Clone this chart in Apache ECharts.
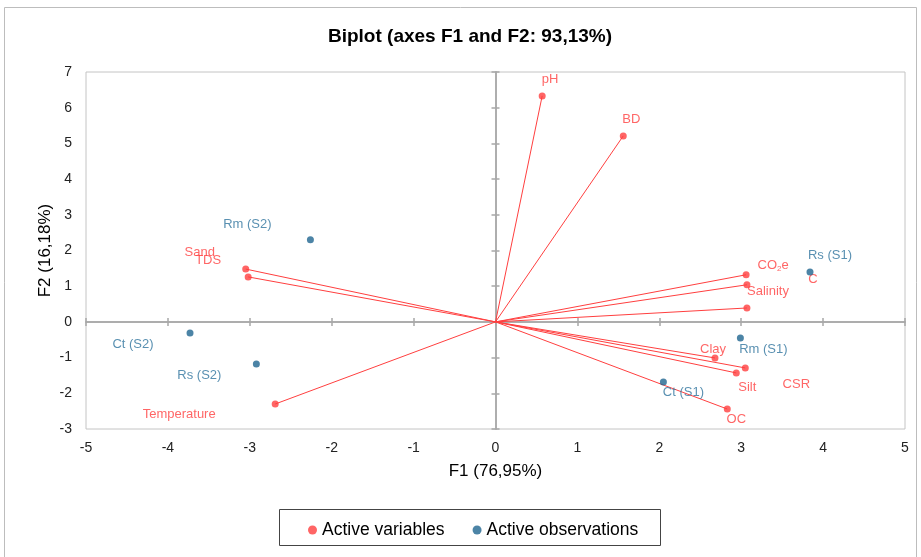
<!DOCTYPE html>
<html>
<head>
<meta charset="utf-8">
<script src="https://cdn.jsdelivr.net/npm/echarts@6/dist/echarts.min.js"></script>
<style>html,body{margin:0;padding:0;background:#fff}#c{width:921px;height:557px}</style>
</head>
<body>
<div id="c"></div>
<script>
// ---- data ----
const varNames = ['pH','BD','Sand','TDS','Temperature','CO2e','Salinity','C','Clay','CSR','Silt','OC'];
const varF1 = [0.57, 1.56, -3.05, -3.02, -2.69, 3.06, 3.07, 3.07, 2.68, 3.05, 2.94, 2.83];
const varF2 = [6.33, 5.21, 1.48, 1.26, -2.30, 1.32, 1.04, 0.39, -1.01, -1.29, -1.43, -2.44];
const obsNames = ['Rm (S2)','Ct (S2)','Rs (S2)','Rs (S1)','Rm (S1)','Ct (S1)'];
const obsF1 = [-2.26, -3.73, -2.92, 3.84, 2.99, 2.05];
const obsF2 = [2.30, -0.31, -1.18, 1.40, -0.45, -1.68];
const xTicks = [-5,-4,-3,-2,-1,0,1,2,3,4,5];
const yTicks = [-3,-2,-1,0,1,2,3,4,5,6,7];

// ---- style: label offsets in pixels ----
const varLabelOffset = {
  'pH':[8,-16],'BD':[8,-16],'Sand':[-46,-17],'TDS':[-40,-16],'Temperature':[-96,10],
  'CO2e':[27,-9],'Salinity':[21,7],'C':[66,-29],'Clay':[-2,-9],'CSR':[51,16],'Silt':[11,14],'OC':[9,10]
};
const obsLabelOffset = {
  'Rm (S2)':[-63,-15],'Ct (S2)':[-57,11],'Rs (S2)':[-57,11],'Rs (S1)':[20,-16],'Rm (S1)':[23,11],'Ct (S1)':[20,11]
};

const RED = '#ff3f3f', RED_TXT = '#ff4040', BLUE = '#1f6590', BLUE_TXT = '#2f749d';
const FONT = 'Liberation Sans';

const xMin = xTicks[0], xMax = xTicks[xTicks.length-1];
const yMin = yTicks[0], yMax = yTicks[yTicks.length-1];

const varData = varNames.map((n,i)=>({
  name:n, value:[varF1[i], varF2[i]],
  label:{offset:varLabelOffset[n], formatter: n==='CO2e' ? 'CO{s|2}e' : n}
}));
const obsData = obsNames.map((n,i)=>({
  name:n, value:[obsF1[i], obsF2[i]],
  label:{offset:obsLabelOffset[n]}
}));
const vecData = varNames.map((n,i)=>({coords:[[0,0],[varF1[i], varF2[i]]]}));

const gridRect = {left:86, right:16, top:72, bottom:128};
const zeroLine = {show:true, onZero:true, lineStyle:{color:'#a8a8a8', width:1.5}};
const zeroTick = {show:true, length:4, lineStyle:{color:'#a8a8a8', width:1.5}};
const common = (mn,mx)=>({type:'value', min:mn, max:mx, interval:1, splitLine:{show:false}});

const chart = echarts.init(document.getElementById('c'), null, {renderer:'canvas'});
chart.setOption({
  animation:false,
  backgroundColor:'#fff',
  title:{
    text:'Biplot (axes F1 and F2: 93,13%)',
    left:465, top:22, textAlign:'center',
    textStyle:{fontFamily:FONT, fontSize:19, fontWeight:'bold', color:'#000'}
  },
  graphic:[
    {type:'rect', shape:{x:4.5, y:7.5, width:912, height:560}, style:{fill:'none', stroke:'#bdbdbd', lineWidth:1}, silent:true, z:-1},
    {type:'rect', shape:{x:279.5, y:509.5, width:381, height:36}, style:{fill:'none', stroke:'#444', lineWidth:1}, silent:true}
  ],
  legend:{
    left:303, top:516, itemWidth:9, itemHeight:9, itemGap:28, icon:'circle',
    data:['Active variables','Active observations'],
    textStyle:{fontFamily:FONT, fontSize:17.5, color:'#000', padding:[0,0,0,0]}
  },
  grid:[
    Object.assign({show:true, borderColor:'#c4c4c4', borderWidth:1}, gridRect),
    Object.assign({show:false}, gridRect)
  ],
  xAxis:[
    Object.assign(common(xMin,xMax), {gridIndex:0, position:'bottom', axisLine:zeroLine, axisTick:zeroTick, axisLabel:{show:false}}),
    Object.assign(common(xMin,xMax), {gridIndex:0, position:'top', axisLine:zeroLine, axisTick:zeroTick, axisLabel:{show:false}}),
    Object.assign(common(xMin,xMax), {gridIndex:1, position:'bottom', axisLine:{show:false, onZero:false}, axisTick:{show:false},
      axisLabel:{show:true, margin:12, fontFamily:FONT, fontSize:14, color:'#222'},
      name:'F1 (76,95%)', nameLocation:'middle', nameGap:34,
      nameTextStyle:{fontFamily:FONT, fontSize:17, color:'#000'}})
  ],
  yAxis:[
    Object.assign(common(yMin,yMax), {gridIndex:0, position:'left', axisLine:zeroLine, axisTick:zeroTick, axisLabel:{show:false}}),
    Object.assign(common(yMin,yMax), {gridIndex:0, position:'right', axisLine:zeroLine, axisTick:zeroTick, axisLabel:{show:false}}),
    Object.assign(common(yMin,yMax), {gridIndex:1, position:'left', axisLine:{show:false, onZero:false}, axisTick:{show:false},
      axisLabel:{show:true, margin:14, fontFamily:FONT, fontSize:14, color:'#222'},
      name:'F2 (16,18%)', nameLocation:'middle', nameGap:32, nameMoveOverlap:false,
      nameTextStyle:{fontFamily:FONT, fontSize:17, color:'#000'}})
  ],
  series:[
    {type:'lines', coordinateSystem:'cartesian2d', xAxisIndex:0, yAxisIndex:0, silent:true,
     lineStyle:{color:RED, width:1, opacity:1}, data:vecData, z:2},
    {name:'Active variables', type:'scatter', xAxisIndex:0, yAxisIndex:0, symbol:'circle', symbolSize:7,
     itemStyle:{color:RED}, z:3,
     label:{show:true, position:'inside', color:RED_TXT, fontFamily:FONT, fontSize:13,
       rich:{s:{fontSize:8, color:RED_TXT, fontFamily:FONT, verticalAlign:'bottom', padding:[6,0,0,0]}}},
     data:varData},
    {name:'Active observations', type:'scatter', xAxisIndex:0, yAxisIndex:0, symbol:'circle', symbolSize:7,
     itemStyle:{color:BLUE}, z:4,
     label:{show:true, position:'inside', color:BLUE_TXT, fontFamily:FONT, fontSize:13, formatter:'{b}'},
     data:obsData}
  ]
});
</script>
</body>
</html>
